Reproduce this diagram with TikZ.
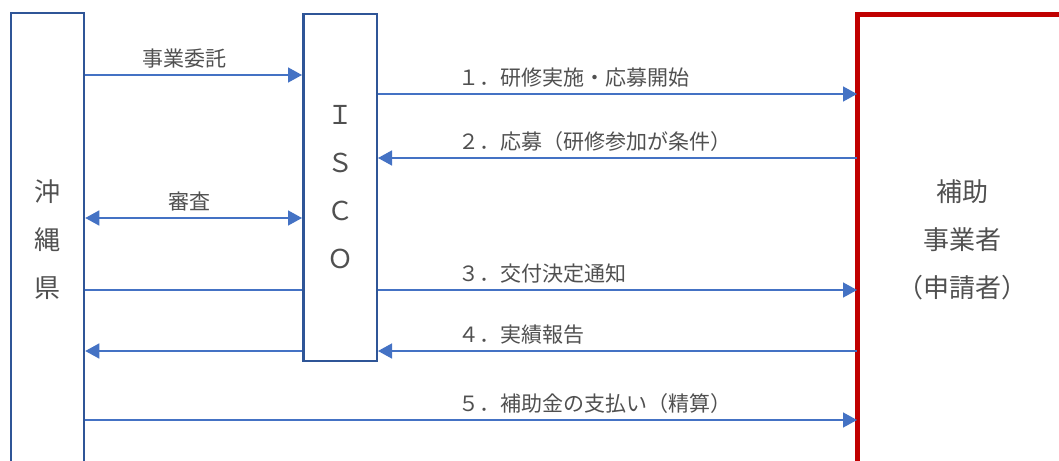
\documentclass[tikz,border=0pt]{standalone}
\usepackage{fontspec}
\setmainfont{Noto Sans CJK JP}
\usepackage{xcolor}
\usepackage{tikz}
\usetikzlibrary{arrows.meta, positioning}

\definecolor{boxblue}{HTML}{2F5597}
\definecolor{arrowblue}{HTML}{4472C4}
\definecolor{boxred}{HTML}{C00000}
\definecolor{txtgray}{HTML}{505050}

\begin{document}
\begin{tikzpicture}[x=1pt, y=-1pt,
    actor/.style={rectangle, draw=boxblue, line width=2.5pt, text=txtgray, align=center, font=\fontsize{26}{48}\selectfont},
    flow/.style={arrowblue, line width=1.5pt, >={Triangle[length=14pt, width=15pt]}},
    lbl/.style={text=txtgray, font=\fontsize{21}{24}\selectfont, inner sep=0pt, above=6pt}]
    % Frame
    \clip (0,0) rectangle (1059,460);
    % Nodes
    \node (okinawa) [actor, minimum width=73pt, minimum height=454pt] at (47.5,240) {沖\\縄\\県};
    \node (isco) [actor, minimum width=73.5pt, minimum height=346.5pt] at (340,187.5) {Ｉ\\Ｓ\\Ｃ\\Ｏ};
    \node (hojo) [actor, draw=none, line width=5pt, minimum width=205pt, minimum height=445pt] at (962,240) {補助\\事業者\\（申請者）};
    \draw[boxred, line width=5pt] ([yshift=-30pt]hojo.south west) |- ([xshift=30pt]hojo.north east);
    % Arrows
    \draw[flow, ->] (okinawa.east |- 0,75) -- node[lbl, pos=0.46] {事業委託} (isco.west |- 0,75);
    \draw[flow, ->] (isco.east |- 0,94) -- node[lbl, anchor=south west, pos=0.167] {１．研修実施・応募開始} (hojo.west |- 0,94);
    \draw[flow, <-] (isco.east |- 0,158) -- node[lbl, anchor=south west, pos=0.167] {２．応募（研修参加が条件）} (hojo.west |- 0,158);
    \draw[flow, <->] (okinawa.east |- 0,218) -- node[lbl, pos=0.48] {審査} (isco.west |- 0,218);
    \draw[flow] (okinawa.east |- 0,290) -- (isco.west |- 0,290);
    \draw[flow, ->] (isco.east |- 0,290) -- node[lbl, anchor=south west, pos=0.167] {３．交付決定通知} (hojo.west |- 0,290);
    \draw[flow, <-] (okinawa.east |- 0,351) -- (isco.west |- 0,351);
    \draw[flow, <-] (isco.east |- 0,351) -- node[lbl, anchor=south west, pos=0.167] {４．実績報告} (hojo.west |- 0,351);
    \draw[flow, ->] (okinawa.east |- 0,420) -- node[lbl, anchor=south west, pos=0.483] {５．補助金の支払い（精算）} (hojo.west |- 0,420);
\end{tikzpicture}
\end{document}
